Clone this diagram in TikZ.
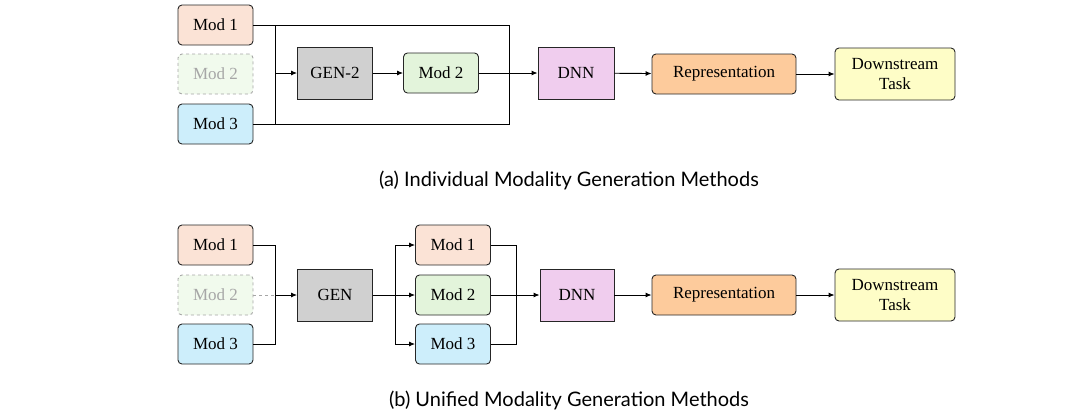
\documentclass[tikz,border=0pt]{standalone}
\usepackage{fontspec}
\setmainfont{Liberation Serif}
\newfontfamily\capfont{Lato}
\usetikzlibrary{arrows.meta}
\definecolor{cA}{HTML}{FBE3D6}
\definecolor{cB}{HTML}{E3F4DB}
\definecolor{cC}{HTML}{CDEEFB}
\definecolor{cG}{HTML}{D0D0D0}
\definecolor{cD}{HTML}{F0CDEE}
\definecolor{cR}{HTML}{FDCB9C}
\definecolor{cT}{HTML}{FEFDC7}
\begin{document}
\begin{tikzpicture}[x=1pt,y=-1pt,
 box/.style={draw=black!85,line width=0.9pt,rounded corners=4pt,minimum width=75pt,minimum height=40pt,font=\fontsize{17}{20}\selectfont,align=center,inner sep=1pt},
 ghost/.style={box,draw=black!35,dashed,fill=cB!50,text=black!35},
 sq/.style={box,rounded corners=0pt,minimum height=52pt},
 ln/.style={line width=0.9pt},
 ar/.style={ln,-{Latex[length=6pt,width=5pt]}},
 captext/.style={font=\capfont\fontsize{20}{24}\selectfont}]
\useasboundingbox (0,0) rectangle (1076,416);
% (a)
\node[box,fill=cA] (a1) at (215.5,25) {Mod 1};
\node[ghost] (a2) at (215.5,74) {Mod 2};
\node[box,fill=cC] (a3) at (215.5,124) {Mod 3};
\node[sq,fill=cG] (ag) at (335,73) {GEN-2};
\node[box,fill=cB] (am) at (441,73) {Mod 2};
\node[sq,fill=cD,minimum width=76pt] (ad) at (576,73) {DNN};
\node[box,fill=cR,minimum width=144pt] (ar) at (724,74) {Representation};
\node[box,fill=cT,minimum width=120pt,minimum height=52pt] (at) at (895,74) {Downstream\\Task};
\coordinate (aj) at (275,73);
\draw[ln] (a1.east) -- (509,25) -- (509,73);
\draw[ln] (a3.east) -- (509,124) -- (509,73);
\draw[ln] (275,25) -- (275,124);
\draw[ar] (aj) -- (ag);
\draw[ar] (ag) -- (am);
\draw[ar] (am) -- (ad);
\draw[ar] (ad) -- (ar);
\draw[ar] (ar) -- (at);
\node[captext] (ca) at (569,180) {(a) Individual Modality Generation Methods};
% (b)
\node[box,fill=cA] (b1) at (215.5,245) {Mod 1};
\node[ghost] (b2) at (215.5,295) {Mod 2};
\node[box,fill=cC] (b3) at (215.5,344) {Mod 3};
\node[sq,fill=cG] (bg) at (335,295) {GEN};
\node[box,fill=cA] (c1) at (453,245) {Mod 1};
\node[box,fill=cB] (c2) at (453,295) {Mod 2};
\node[box,fill=cC] (c3) at (453,344) {Mod 3};
\node[sq,fill=cD,minimum width=74pt] (bd) at (577,295) {DNN};
\node[box,fill=cR,minimum width=144pt] (br) at (724,295) {Representation};
\node[box,fill=cT,minimum width=120pt,minimum height=52pt] (bt) at (895,295) {Downstream\\Task};
\coordinate (bj) at (275,295);
\coordinate (bk) at (395,295);
\coordinate (bm) at (516,295);
\draw[ln] (b1.east) -| (bj);
\draw[ln] (b3.east) -| (bj);
\draw[ln,dashed,draw=black!35] (b2.east) -- (bj);
\draw[ar] (bj) -- (bg);
\draw[ln] (bg) -- (bk);
\draw[ar] (bk) |- (c1);
\draw[ar] (bk) -- (c2);
\draw[ar] (bk) |- (c3);
\draw[ln] (c1.east) -| (bm);
\draw[ln] (c3.east) -| (bm);
\draw[ln] (c2.east) -- (bm);
\draw[ar] (bm) -- (bd);
\draw[ar] (bd) -- (br);
\draw[ar] (br) -- (bt);
\node[captext] (cb) at (569,400) {(b) Unified Modality Generation Methods};
\end{tikzpicture}
\end{document}
